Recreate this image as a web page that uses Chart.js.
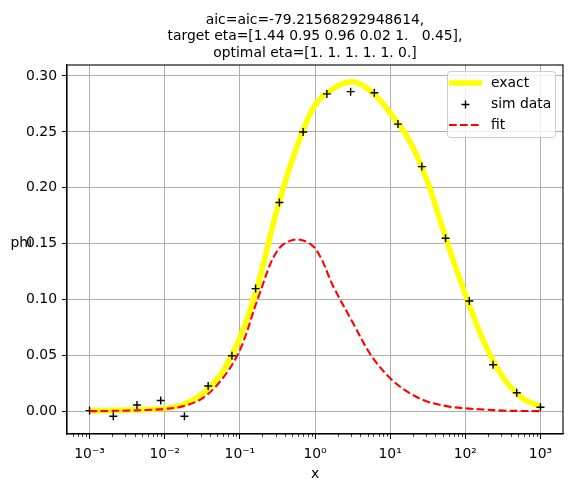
<!DOCTYPE html>
<html>
<head>
<meta charset="utf-8">
<script src="https://cdn.jsdelivr.net/npm/chart.js@4.4.0/dist/chart.umd.min.js"></script>
<style>
  html, body { margin: 0; padding: 0; background: #fff; }
</style>
</head>
<body>
<canvas id="chart" width="573" height="492"></canvas>
<script>
// curve sample positions (quarter decades from 1e-3 to 1e3)
const curveX = [0.001, 0.001778, 0.003162, 0.005623, 0.01, 0.01778, 0.03162, 0.05623,
  0.1, 0.1778, 0.3162, 0.5623, 1, 1.778, 3.162, 5.623, 10, 17.78, 31.62, 56.23,
  100, 177.8, 316.2, 562.3, 1000];
const exactY = [0.0008, 0.001, 0.0015, 0.002, 0.003, 0.0065, 0.016, 0.034,
  0.066, 0.116, 0.182, 0.235, 0.274, 0.289, 0.2948, 0.286, 0.267, 0.243, 0.205, 0.153,
  0.105, 0.062, 0.031, 0.0125, 0.0045];
const fitY = [0.0005, 0.0007, 0.001, 0.0015, 0.0025, 0.005, 0.012, 0.028,
  0.055, 0.103, 0.144, 0.154, 0.146, 0.111, 0.080, 0.050, 0.030, 0.017, 0.009, 0.005,
  0.003, 0.002, 0.001, 0.0007, 0.0005];

// simulated data
const simX = [0.001, 0.00207, 0.00428, 0.00886, 0.0183, 0.0379, 0.0785, 0.162, 0.336, 0.695,
  1.44, 2.98, 6.16, 12.7, 26.4, 54.6, 113, 234, 483, 1000];
const simY = [0.001, -0.004, 0.006, 0.010, -0.004, 0.023, 0.050, 0.110, 0.187, 0.250,
  0.284, 0.286, 0.285, 0.257, 0.219, 0.155, 0.099, 0.042, 0.017, 0.004];

const yTicks = [0, 0.05, 0.10, 0.15, 0.20, 0.25, 0.30];
const xDecades = [-4, -3, -2, -1, 0, 1, 2, 3];
const titleLines = [
  'aic=aic=-79.21568292948614,',
  'target eta=[1.44 0.95 0.96 0.02 1.   0.45],',
  'optimal eta=[1. 1. 1. 1. 1. 0.]'
];

const FONT = '13.9px "DejaVu Sans"';
const X_MIN = Math.pow(10, -3.3);
const X_MAX = Math.pow(10, 3.3);

function toPoints(xs, ys) {
  return xs.map((x, i) => ({ x: x, y: ys[i] }));
}

function superscript(n) {
  const map = { '-': '\u207b', '0': '\u2070', '1': '\u00b9', '2': '\u00b2', '3': '\u00b3',
    '4': '\u2074', '5': '\u2075', '6': '\u2076', '7': '\u2077', '8': '\u2078', '9': '\u2079' };
  return String(n).split('').map(c => map[c]).join('');
}

function isDecade(v) {
  const p = Math.log10(v);
  return Math.abs(p - Math.round(p)) < 1e-6;
}

// title, axis labels, frame, minor ticks and legend
const decorPlugin = {
  id: 'decor',
  afterDraw(chart) {
    const ctx = chart.ctx;
    const area = chart.chartArea;
    const xs = chart.scales.x;
    ctx.save();

    // minor ticks on log axis
    ctx.strokeStyle = '#000';
    ctx.lineWidth = 0.8;
    xs.ticks.forEach(t => {
      if (isDecade(t.value)) return;
      const px = Math.round(xs.getPixelForValue(t.value)) + 0.5;
      ctx.beginPath();
      ctx.moveTo(px, area.bottom);
      ctx.lineTo(px, area.bottom + 2.8);
      ctx.stroke();
    });

    // frame
    ctx.lineWidth = 1.1;
    ctx.strokeRect(area.left, area.top, area.right - area.left, area.bottom - area.top);

    // title
    ctx.fillStyle = '#000';
    ctx.font = FONT;
    ctx.textAlign = 'center';
    ctx.textBaseline = 'alphabetic';
    const cx = (area.left + area.right) / 2;
    titleLines.forEach((line, i) => ctx.fillText(line, cx, 23.5 + i * 16.5));

    // axis labels
    ctx.textBaseline = 'middle';
    ctx.fillText('x', cx, 474);
    ctx.textAlign = 'right';
    ctx.fillText('phi', 32, 243);

    // legend
    const lx = 447.5, ly = 71.5, lw = 108, lh = 66;
    ctx.beginPath();
    ctx.roundRect(lx, ly, lw, lh, 3);
    ctx.fillStyle = 'rgba(255,255,255,0.8)';
    ctx.fill();
    ctx.strokeStyle = '#cccccc';
    ctx.lineWidth = 1;
    ctx.stroke();

    ctx.lineCap = 'butt';
    ctx.strokeStyle = '#ffff00';
    ctx.lineWidth = 5.5;
    ctx.beginPath();
    ctx.moveTo(449, 83);
    ctx.lineTo(482, 83);
    ctx.stroke();

    ctx.strokeStyle = '#000';
    ctx.lineWidth = 1.4;
    ctx.beginPath();
    ctx.moveTo(461.5, 104.5);
    ctx.lineTo(469.5, 104.5);
    ctx.moveTo(465.5, 100.5);
    ctx.lineTo(465.5, 108.5);
    ctx.stroke();

    ctx.strokeStyle = '#ff0000';
    ctx.lineWidth = 2.1;
    ctx.setLineDash([7.7, 3.3]);
    ctx.beginPath();
    ctx.moveTo(449, 125);
    ctx.lineTo(482, 125);
    ctx.stroke();
    ctx.setLineDash([]);

    ctx.fillStyle = '#000';
    ctx.textAlign = 'left';
    ctx.textBaseline = 'middle';
    ctx.fillText('exact', 491, 83);
    ctx.fillText('sim data', 491, 104);
    ctx.fillText('fit', 491, 125);

    ctx.restore();
  }
};

Chart.defaults.font.family = '"DejaVu Sans"';
Chart.defaults.font.size = 13.9;
Chart.defaults.color = '#000';

new Chart(document.getElementById('chart'), {
  type: 'line',
  data: {
    datasets: [{
      label: 'exact',
      data: toPoints(curveX, exactY),
      borderColor: '#ffff00',
      borderWidth: 5.5,
      pointRadius: 0,
      tension: 0.35,
      order: 3
    }, {
      label: 'sim data',
      data: toPoints(simX, simY),
      showLine: false,
      pointStyle: 'cross',
      pointRadius: 4,
      pointBorderWidth: 1.4,
      pointBorderColor: '#000',
      pointBackgroundColor: '#000',
      order: 2
    }, {
      label: 'fit',
      data: toPoints(curveX, fitY),
      borderColor: '#ff0000',
      borderWidth: 2.1,
      borderDash: [7.7, 3.3],
      pointRadius: 0,
      tension: 0.35,
      order: 1
    }]
  },
  options: {
    responsive: false,
    animation: false,
    devicePixelRatio: 1,
    layout: { padding: { top: 65, right: 10, left: 0, bottom: 0 } },
    plugins: {
      legend: { display: false },
      title: { display: false },
      tooltip: { enabled: false }
    },
    scales: {
      x: {
        type: 'logarithmic',
        min: X_MIN,
        max: X_MAX,
        afterBuildTicks: (scale) => {
          const ticks = [];
          xDecades.forEach(k => {
            for (let m = 1; m <= 9; m++) {
              const v = m * Math.pow(10, k);
              if (v >= X_MIN && v <= X_MAX) ticks.push({ value: v, major: m === 1 });
            }
          });
          scale.ticks = ticks;
        },
        afterFit: (scale) => { scale.height = 58; },
        grid: {
          color: (c) => (c.tick && isDecade(c.tick.value)) ? '#b0b0b0' : 'rgba(0,0,0,0)',
          lineWidth: 1,
          tickColor: (c) => (c.tick && isDecade(c.tick.value)) ? '#000' : 'rgba(0,0,0,0)',
          tickLength: 5,
          tickWidth: 1
        },
        border: { color: '#000', width: 1.1 },
        ticks: {
          autoSkip: false,
          maxRotation: 0,
          padding: 7,
          font: { size: 13.9 },
          color: '#000',
          callback: (v) => isDecade(v) ? '10' + superscript(Math.round(Math.log10(v))) : ''
        }
      },
      y: {
        type: 'linear',
        min: -0.0199,
        max: 0.3098,
        afterBuildTicks: (scale) => {
          scale.ticks = yTicks.map(v => ({ value: v }));
        },
        afterFit: (scale) => { scale.width = 67; },
        grid: {
          color: '#b0b0b0',
          lineWidth: 1,
          tickColor: '#000',
          tickLength: 5
        },
        border: { color: '#000', width: 1.1 },
        ticks: {
          padding: 5,
          font: { size: 13.9 },
          color: '#000',
          callback: (v) => v.toFixed(2)
        }
      }
    }
  },
  plugins: [decorPlugin]
});
</script>
</body>
</html>
